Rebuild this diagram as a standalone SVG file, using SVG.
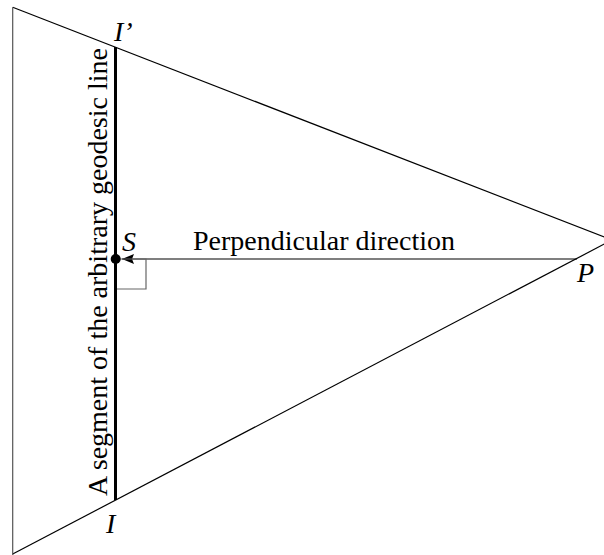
<svg xmlns="http://www.w3.org/2000/svg" width="604" height="555" viewBox="0 0 604 555">
<style>
text{font-family:"Liberation Serif","Times New Roman",serif;font-size:28px;fill:#000}
.it{font-style:italic}
.thin{fill:none;stroke:#000;stroke-width:1.2}
</style>
<defs>
<marker id="ah" markerWidth="13" markerHeight="11" refX="12" refY="5" orient="auto" markerUnits="userSpaceOnUse">
<path d="M0,0 L12,5 L0,10 L2,5 Z" fill="#000"/>
</marker>
</defs>
<rect width="604" height="555" fill="#fff"/>
<g id="triangle">
<line x1="12.7" y1="7.3" x2="612" y2="240" class="thin"/>
<line x1="12.7" y1="554" x2="612" y2="240" class="thin"/>
<line x1="12.7" y1="7.3" x2="12.7" y2="555" stroke="#555" stroke-width="1.2"/>
</g>
<g id="connectors">
<line x1="577" y1="259" x2="122" y2="259" class="thin" stroke="#222" marker-end="url(#ah)"/>
<path d="M116,259 H146 V289 H116" fill="none" stroke="#666" stroke-width="1.2"/>
</g>
<g id="geodesic">
<line x1="115.5" y1="47" x2="115.5" y2="500" stroke="#000" stroke-width="3"/>
<text transform="translate(107,272) rotate(-90)" text-anchor="middle">A segment of the arbitrary geodesic line</text>
</g>
<g id="S">
<circle cx="115.7" cy="259" r="5" fill="#000"/>
<text x="122" y="251" class="it">S</text>
</g>
<g id="Iprime"><text x="114" y="41" class="it">I’</text></g>
<g id="I"><text x="106" y="533" class="it">I</text></g>
<g id="P"><text x="577" y="282" class="it">P</text></g>
<text x="193" y="250">Perpendicular direction</text>
</svg>
